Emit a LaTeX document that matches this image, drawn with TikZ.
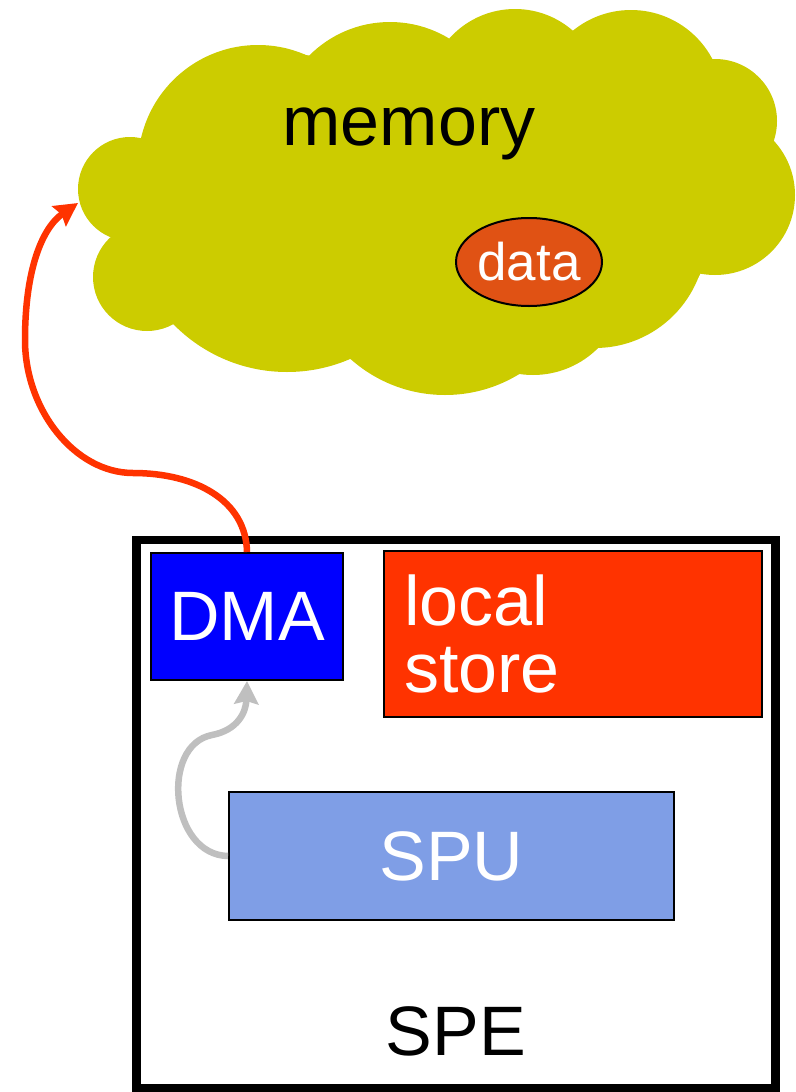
\documentclass[tikz,border=0pt]{standalone}
\usepackage{fontspec}
\setmainfont{Liberation Sans}
\usetikzlibrary{shapes.geometric,arrows.meta}

\definecolor{cloudcol}{HTML}{CCCC00}
\definecolor{datacol}{HTML}{E05214}
\definecolor{dmacol}{HTML}{0000FF}
\definecolor{storecol}{HTML}{FF3300}
\definecolor{spucol}{HTML}{7F9EE6}
\definecolor{linkcol}{HTML}{BFBFBF}

\tikzset{
	unit/.style={draw=black, line width=2pt, text=white, inner sep=0pt, font=\fontsize{70}{67}\selectfont},
	link/.style={line width=6.5pt, -{Stealth[length=23pt,width=24pt,inset=3pt]}},
}

\begin{document}
\begin{tikzpicture}[x=1pt, y=-1pt]
		\useasboundingbox (0,0) rectangle (795,1092);

		% memory cloud
		\fill[cloudcol] (141,138) -- (309,56) -- (450,39) -- (572,31) -- (712,59) -- (771,146) -- (698,278)
			-- (598,348) -- (519,374) -- (350,359) -- (173,324) -- (111,237) -- cycle;
		\fill[cloudcol] (258,165) circle[radius=120];
		\fill[cloudcol] (390,136) circle[radius=114];
		\fill[cloudcol] (515,97) circle[radius=88];
		\fill[cloudcol] (631,102) circle[radius=92];
		\fill[cloudcol] (715,121) circle[radius=62];
		\fill[cloudcol] (715,195) circle[radius=80];
		\fill[cloudcol] (595,237) circle[radius=111];
		\fill[cloudcol] (533,283) circle[radius=92];
		\fill[cloudcol] (445,253) circle[radius=142];
		\fill[cloudcol] (287,213) circle[radius=159];
		\fill[cloudcol] (147,277) circle[radius=54];
		\fill[cloudcol] (130,189) circle[radius=52];

		\node[anchor=base, font=\fontsize{70}{80}\selectfont] (memory) at (409,145) {memory};
		\node[ellipse, draw=black, line width=2pt, fill=datacol, text=white, inner sep=0pt,
			minimum width=146pt, minimum height=88pt, font=\fontsize{53}{60}\selectfont] (data) at (529,262) {data};
		\coordinate (memin) at (78,203);

		% SPE
		\draw[line width=8.5pt] (136.5,540) rectangle (775.5,1088);
		\node[unit, fill=dmacol, minimum width=192pt, minimum height=127pt] (dma) at (247,616.5) {DMA};
		\node[unit, fill=storecol, minimum width=378pt, minimum height=166pt, text width=338pt,
			inner xsep=20pt, align=left] (store) at (573,634) {local\\store};
		\node[unit, fill=spucol, minimum width=445pt, minimum height=128pt] (spu) at (451.5,856) {SPU};
		\node[anchor=base, font=\fontsize{70}{80}\selectfont] (spe) at (456,1055) {SPE};

		\draw[link, storecol] (dma.north) .. controls (246,500) and (195,473) .. (133,473)
			.. controls (75,473) and (25,410) .. (25,340) .. controls (25,270) and (42,228) .. (memin);
		\draw[link, linkcol] (spu.west) .. controls (170,855) and (160,745) .. (212,735)
			.. controls (238,730) and (246,712) .. (dma.south);
\end{tikzpicture}
\end{document}
